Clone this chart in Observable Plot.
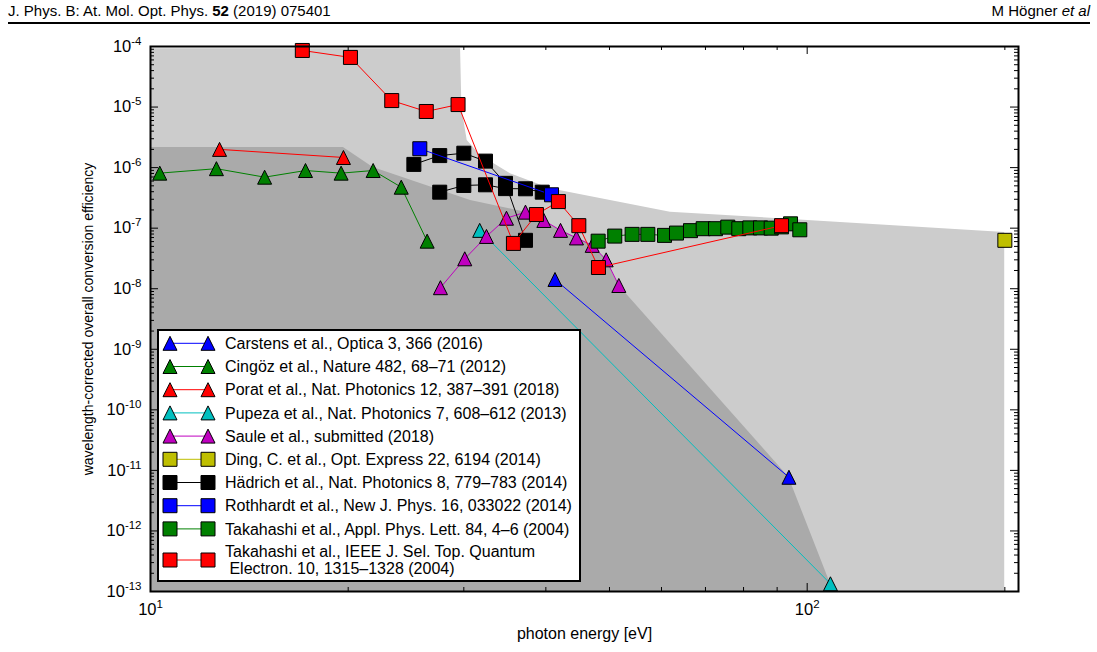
<!DOCTYPE html>
<html>
<head>
<meta charset="utf-8">
<script src="https://cdn.jsdelivr.net/npm/d3@7"></script>
<script src="https://cdn.jsdelivr.net/npm/@observablehq/plot@0.6"></script>
<style>
  body { margin: 0; background: #fff; font-family: "Liberation Sans", Arial, sans-serif; }
  #page { position: relative; width: 1097px; height: 652px; overflow: hidden; background: #fff; }
  #hdr-left { position: absolute; left: 8px; top: 2px; font-size: 15px; color: #000; white-space: nowrap; }
  #hdr-right { position: absolute; right: 7px; top: 2px; font-size: 15px; color: #000; white-space: nowrap; }
  #rule { position: absolute; left: 8px; width: 1082px; top: 22px; height: 2px; background: #000; }
  #chart { position: absolute; left: 0; top: 30px; }
  #legend { position: absolute; left: 157px; top: 329px; }
</style>
</head>
<body>
<div id="page">
  <div id="hdr-left">J. Phys. B: At. Mol. Opt. Phys. <b>52</b> (2019) 075401</div>
  <div id="hdr-right">M Högner <i>et al</i></div>
  <div id="rule"></div>
  <div id="chart"></div>
  <div id="legend"></div>
</div>
<script>
// ---- measured efficiencies: [photon energy (eV), wavelength-corrected efficiency] ----
const carstens = [[41.3, 1.42e-8], [93.8, 7.7e-12]];
const cingoz = [[10.33, 8.1e-7], [12.6, 9.6e-7], [14.92, 6.95e-7], [17.22, 8.95e-7],
                [19.51, 8.1e-7], [21.83, 8.95e-7], [24.09, 4.75e-7], [26.38, 6.1e-8]];
const porat = [[12.74, 2.0e-6], [19.67, 1.47e-6]];
const pupeza = [[31.72, 9.2e-8], [108.5, 1.34e-13]];
const saule = [[27.64, 1.04e-8], [30.1, 3.12e-8], [32.48, 7.3e-8], [34.84, 1.46e-7],
               [37.24, 1.84e-7], [39.72, 1.34e-7], [42.11, 9.2e-8], [44.53, 6.9e-8],
               [47.06, 5.2e-8], [49.42, 3.0e-8], [51.66, 1.13e-8]];
const ding = [[200, 6.3e-8]];
const hadrichHigh = [[25.18, 1.13e-6], [27.57, 1.58e-6], [30.0, 1.73e-6], [32.37, 1.28e-6],
                     [34.72, 5.5e-7], [37.24, 6.3e-8]];
const hadrichLow = [[27.57, 3.93e-7], [30.0, 5.07e-7], [32.37, 5.2e-7], [34.72, 4.5e-7],
                    [37.24, 4.47e-7], [39.5, 3.93e-7]];
const rothhardt = [[25.71, 2.05e-6], [40.8, 3.56e-7]];
const takahashiAPL = [[48.05, 6.1e-8], [50.93, 7.4e-8], [54.13, 7.9e-8], [57.19, 7.9e-8],
                      [60.64, 7.6e-8], [63.24, 8.3e-8], [66.42, 9.1e-8], [69.44, 9.8e-8],
                      [72.51, 9.8e-8], [75.7, 1.04e-7], [78.68, 9.8e-8], [81.78, 1.01e-7],
                      [84.91, 1.01e-7], [88.15, 1.0e-7], [91.4, 1.05e-7], [94.33, 1.18e-7],
                      [97.45, 9.4e-8]];
const takahashiIEEE = [[17.03, 8.6e-5], [20.16, 6.6e-5], [23.3, 1.28e-5], [26.3, 8.45e-6],
                       [29.4, 1.1e-5], [35.7, 5.6e-8], [38.7, 1.68e-7], [41.8, 2.75e-7],
                       [44.9, 1.1e-7], [48.1, 2.24e-8], [91.4, 1.1e-7]];

// ---- shaded envelopes (upper edge; filled down to the axis) ----
const envelopeAll = [[10, 9.2e-5], [29.66, 9.2e-5], [29.8, 9.5e-6], [30.36, 2.8e-6],
                     [31.81, 1.58e-6], [35.33, 7.9e-7], [40.66, 4.47e-7], [61.9, 1.84e-7],
                     [199.9, 8.5e-8]];
const envelopeLow = [[10, 2.15e-6], [19.67, 2.15e-6], [21.83, 1.0e-6], [30.72, 2.86e-7],
                     [37.24, 1.84e-7], [42.11, 9.2e-8], [47.06, 5.2e-8], [49.42, 3.0e-8],
                     [51.66, 1.13e-8], [93.76, 7.7e-12], [108.5, 1.34e-13]];

// ---- axis ticks ----
const yDecades = [1e-13, 1e-12, 1e-11, 1e-10, 1e-9, 1e-8, 1e-7, 1e-6, 1e-5, 1e-4];
const xDecades = [10, 100];
const xMinor = [20, 30, 40, 50, 60, 70, 80, 90, 200];
const yMinor = yDecades.slice(0, -1).flatMap(d => [2, 3, 4, 5, 6, 7, 8, 9].map(m => m * d));

// triangle with its bounding box centred on the point (width = height)
const triangleUp = {
  draw(ctx, size) {
    const h = Math.sqrt(2 * size) / 2;
    ctx.moveTo(0, -h); ctx.lineTo(h, h); ctx.lineTo(-h, h); ctx.closePath();
  }
};
const shapes = {
  triangle: {symbol: triangleUp, r: Math.sqrt(98 / Math.PI), size: 98},
  square: {symbol: d3.symbolSquare, r: Math.sqrt(196 / Math.PI), size: 196}
};

const series = [
  {label: ["Carstens et al., Optica 3, 366 (2016)"], color: "#0000ff", shape: "triangle", runs: [carstens]},
  {label: ["Cingöz et al., Nature 482, 68–71 (2012)"], color: "#008000", shape: "triangle", runs: [cingoz]},
  {label: ["Porat et al., Nat. Photonics 12, 387–391 (2018)"], color: "#ff0000", shape: "triangle", runs: [porat]},
  {label: ["Pupeza et al., Nat. Photonics 7, 608–612 (2013)"], color: "#00bfbf", shape: "triangle", runs: [pupeza]},
  {label: ["Saule et al., submitted (2018)"], color: "#bf00bf", shape: "triangle", runs: [saule]},
  {label: ["Ding, C. et al., Opt. Express 22, 6194 (2014)"], color: "#bfbf00", shape: "square", runs: [ding]},
  {label: ["Hädrich et al., Nat. Photonics 8, 779–783 (2014)"], color: "#000000", shape: "square", runs: [hadrichHigh, hadrichLow]},
  {label: ["Rothhardt et al., New J. Phys. 16, 033022 (2014)"], color: "#0000ff", shape: "square", runs: [rothhardt]},
  {label: ["Takahashi et al., Appl. Phys. Lett. 84, 4–6 (2004)"], color: "#008000", shape: "square", runs: [takahashiAPL]},
  {label: ["Takahashi et al., IEEE J. Sel. Top. Quantum", " Electron. 10, 1315–1328 (2004)"], color: "#ff0000", shape: "square", runs: [takahashiIEEE]}
];

const toRows = pts => pts.map(([e, v]) => ({e, v}));

const W = 1097, H = 622;
const mL = 150, mR = 79, mT = 16, mB = 61;
const frameW = W - mL - mR, frameH = H - mT - mB;
const majorLen = 8, minorLen = 4;

const dataMarks = series.flatMap((s, i) => {
  const rows = s.runs.flatMap((run, j) => run.map(([e, v]) => ({e, v, run: j})));
  const sh = shapes[s.shape];
  return [
    Plot.line(rows, {x: "e", y: "v", z: "run", stroke: s.color, strokeWidth: 1}),
    Plot.dot(rows, {x: "e", y: "v", symbol: sh.symbol, r: sh.r, fill: s.color, stroke: "#000", strokeWidth: 1})
  ];
});

const chart = Plot.plot({
  width: W, height: H,
  marginLeft: mL, marginRight: mR, marginTop: mT, marginBottom: mB,
  x: {type: "log", domain: [10, 209.8]},
  y: {type: "log", domain: [1e-13, 1e-4]},
  style: {fontFamily: "'Liberation Sans', Arial, sans-serif", fontSize: "16.5px", color: "#000", background: "transparent", overflow: "visible"},
  marks: [
    Plot.areaY(toRows(envelopeAll), {x: "e", y1: 1e-13, y2: "v", fill: "#cccccc"}),
    Plot.areaY(toRows(envelopeLow), {x: "e", y1: 1e-13, y2: "v", fill: "#aaaaaa"}),
    ...dataMarks,
    // inward ticks on all four sides
    Plot.tickY(yDecades, {y: d => d, insetRight: frameW - majorLen, stroke: "#000"}),
    Plot.tickY(yMinor, {y: d => d, insetRight: frameW - minorLen, stroke: "#000"}),
    Plot.tickY(yDecades, {y: d => d, insetLeft: frameW - majorLen, stroke: "#000"}),
    Plot.tickY(yMinor, {y: d => d, insetLeft: frameW - minorLen, stroke: "#000"}),
    Plot.tickX(xDecades, {x: d => d, insetTop: frameH - majorLen, stroke: "#000"}),
    Plot.tickX(xMinor, {x: d => d, insetTop: frameH - minorLen, stroke: "#000"}),
    Plot.tickX(xDecades, {x: d => d, insetBottom: frameH - majorLen, stroke: "#000"}),
    Plot.tickX(xMinor, {x: d => d, insetBottom: frameH - minorLen, stroke: "#000"}),
    Plot.axisY(yDecades, {tickSize: 0, tickPadding: 9, label: null, tickFormat: d => "10^" + Math.round(Math.log10(d))}),
    Plot.axisX(xDecades, {tickSize: 0, tickPadding: 12, label: null, tickFormat: d => "10^" + Math.round(Math.log10(d))}),
    Plot.text(["wavelength-corrected overall conversion efficiency"], {frameAnchor: "left", textAnchor: "middle", dx: -62, rotate: -90, fontSize: 14}),
    Plot.text(["photon energy [eV]"], {frameAnchor: "bottom", textAnchor: "middle", dy: 47, fontSize: 16}),
    Plot.frame({stroke: "#000", strokeWidth: 2})
  ]
});

// powers of ten with raised exponents
const NS = "http://www.w3.org/2000/svg";
chart.querySelectorAll('g[aria-label$="tick label"] text').forEach(t => {
  const m = t.textContent.match(/^10\^(.+)$/);
  if (!m) return;
  t.textContent = "";
  const base = document.createElementNS(NS, "tspan");
  base.textContent = "10";
  const exp = document.createElementNS(NS, "tspan");
  exp.textContent = m[1];
  exp.setAttribute("font-size", "11.5px");
  exp.setAttribute("dy", "-7");
  t.append(base, exp);
});
document.getElementById("chart").append(chart);

// ---- legend box ----
const LW = 425, LH = 254;
const leg = d3.select("#legend").append("svg").attr("width", LW).attr("height", LH)
  .style("font-family", "'Liberation Sans', Arial, sans-serif");
leg.append("rect").attr("x", 1).attr("y", 1).attr("width", 422).attr("height", 251)
  .attr("fill", "#fff").attr("stroke", "#000").attr("stroke-width", 2);
const rowY = [14.3, 37.5, 60.7, 83.9, 107.1, 130.3, 153.5, 176.7, 199.9, 231];
series.forEach((s, i) => {
  const y = rowY[i];
  const g = leg.append("g");
  g.append("line").attr("x1", 13).attr("x2", 51).attr("y1", y).attr("y2", y)
    .attr("stroke", s.color).attr("stroke-width", 1);
  const sh = shapes[s.shape];
  [13, 51].forEach(x => g.append("path")
    .attr("d", d3.symbol(sh.symbol, sh.size)())
    .attr("transform", `translate(${x},${y})`)
    .attr("fill", s.color).attr("stroke", "#000").attr("stroke-width", 1));
  const lines = s.label;
  const t = g.append("text").attr("x", 68).attr("font-size", "16px").attr("fill", "#000");
  if (lines.length === 1) {
    t.attr("y", y).attr("dy", "0.35em").text(lines[0]);
  } else {
    t.append("tspan").attr("x", 68).attr("y", y - 9).attr("dy", "0.35em").text(lines[0]);
    t.append("tspan").attr("x", 68).attr("y", y + 8.5).attr("dy", "0.35em").style("white-space", "pre").text(lines[1]);
  }
});
</script>
</body>
</html>
